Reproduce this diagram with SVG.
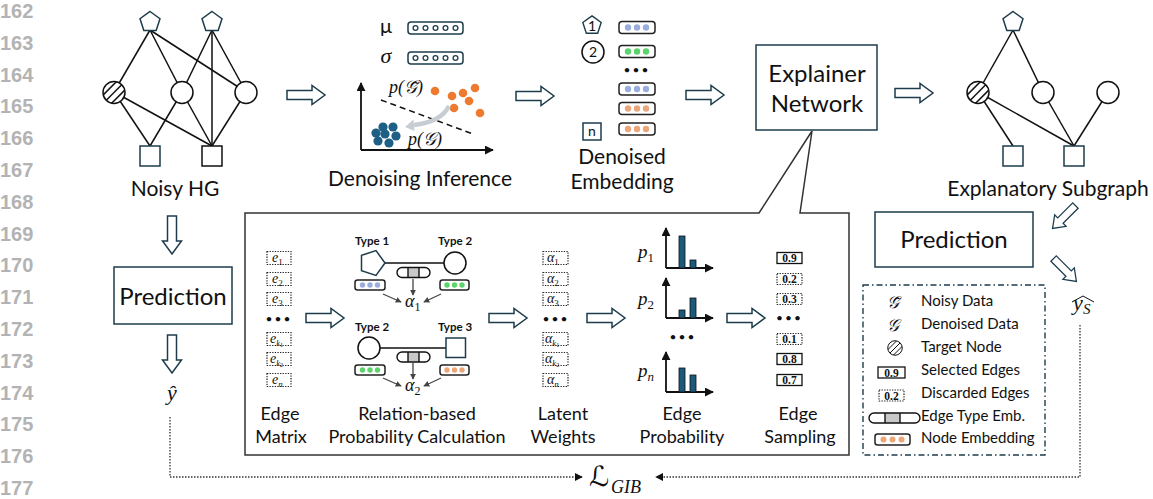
<svg xmlns="http://www.w3.org/2000/svg" width="1153" height="499" viewBox="0 0 1153 499">
<defs>
<style>
.ln{font-family:'Liberation Sans',Arial,sans-serif;font-weight:700;font-size:20px;fill:#b3b3b3}
.t{font-family:Lato,'Liberation Sans',sans-serif;fill:#111;text-anchor:middle}
.h{font-size:21px}
.pl{font-size:18px}
.big{font-size:24px}
.lg{font-size:15px;text-anchor:start}
.ty{font-size:11.5px;font-weight:700}
.m{font-family:'Liberation Serif','DejaVu Serif',serif;font-style:italic;fill:#111}
.num{font-family:'Liberation Serif',serif;font-weight:700;font-size:11.5px;text-anchor:middle;fill:#111}
.hol{fill:#fff;stroke:#1d3c4c;stroke-width:1.5}
.nav{fill:#fff;stroke:#1d3c4c;stroke-width:1.5}
.blk{fill:#fff;stroke:#111;stroke-width:1.5}
.e{stroke:#111;stroke-width:1.5;fill:none}
.dot{fill:#fff;stroke:#222;stroke-width:1.2;stroke-dasharray:1.3 1.3}
.sel{fill:#fff;stroke:#111;stroke-width:1.3}
.emb{fill:#fff;stroke:#222;stroke-width:1.5}
.bl{fill:#9aaedd}.gr{fill:#5dd36b}.or{fill:#eba67a}
.bar{fill:#1c5a7c;stroke:#111;stroke-width:0.8}
.ax{stroke:#111;stroke-width:1.8;fill:none;marker-end:url(#ah)}
.sm{stroke:#444;stroke-width:1.3;fill:none;marker-end:url(#sh)}
.loss{stroke:#333;stroke-width:1.3;fill:none;stroke-dasharray:1.5 1.5}
.vec{fill:#fff;stroke:#1d3c4c;stroke-width:1.5}
.vc{fill:#fff;stroke:#1d3c4c;stroke-width:1.3}
</style>
<marker id="sh" viewBox="0 0 8 8" refX="7" refY="4" markerWidth="6" markerHeight="6" markerUnits="userSpaceOnUse" orient="auto"><path d="M0,0 L8,4 L0,8 z" fill="#444"/></marker>
<marker id="ah" viewBox="0 0 10 10" refX="9" refY="5" markerWidth="9" markerHeight="9" markerUnits="userSpaceOnUse" orient="auto"><path d="M0,0 L10,5 L0,10 z" fill="#111"/></marker>
<marker id="lh" viewBox="0 0 10 10" refX="9" refY="5" markerWidth="8" markerHeight="8" markerUnits="userSpaceOnUse" orient="auto"><path d="M0,0 L10,5 L0,10 z" fill="#111"/></marker>
<path id="harr" d="M-19,-4.5 H6 V-9.5 L19,0 L6,9.5 V4.5 H-19 Z"/>
<polygon id="pent" points="0,-10.5 9.99,-3.24 6.17,8.49 -6.17,8.49 -9.99,-3.24"/>
<clipPath id="cc"><circle r="11"/></clipPath>
<g id="hatch">
<circle r="11" fill="#fff"/>
<g clip-path="url(#cc)" stroke="#111" stroke-width="1.5"><line x1="-19.2" y1="10.8" x2="10.8" y2="-19.2"/><line x1="-15" y1="15" x2="15" y2="-15"/><line x1="-10.8" y1="19.2" x2="19.2" y2="-10.8"/></g>
<circle r="11" fill="none" stroke="#111" stroke-width="1.5"/>
</g>
<g id="pill">
<path d="M5,0 H28 A5,5 0 0 1 28,10 H5 A5,5 0 0 1 5,0 Z" fill="#fff"/>
<rect x="11" y="0" width="11" height="10" fill="#c8c8c8"/>
<path d="M5,0 H28 A5,5 0 0 1 28,10 H5 A5,5 0 0 1 5,0 Z M11,0 V10 M22,0 V10" fill="none" stroke="#111" stroke-width="1.4"/>
</g>
</defs>

<rect width="1153" height="499" fill="#fff"/>

<!-- line numbers -->
<g id="line-numbers">
<text class="ln" x="0" y="18">162</text>
<text class="ln" x="0" y="49.8">163</text>
<text class="ln" x="0" y="81.6">164</text>
<text class="ln" x="0" y="113.4">165</text>
<text class="ln" x="0" y="145.2">166</text>
<text class="ln" x="0" y="177">167</text>
<text class="ln" x="0" y="208.8">168</text>
<text class="ln" x="0" y="240.6">169</text>
<text class="ln" x="0" y="272.4">170</text>
<text class="ln" x="0" y="304.2">171</text>
<text class="ln" x="0" y="336">172</text>
<text class="ln" x="0" y="367.8">173</text>
<text class="ln" x="0" y="399.6">174</text>
<text class="ln" x="0" y="431.4">175</text>
<text class="ln" x="0" y="463.2">176</text>
<text class="ln" x="0" y="495">177</text>
</g>

<!-- noisy heterogeneous graph -->
<g id="noisy-hg">
<g class="e">
<line x1="150" y1="30" x2="114" y2="92"/>
<line x1="150" y1="30" x2="182" y2="92"/>
<line x1="150" y1="30" x2="246" y2="92"/>
<line x1="212" y1="30" x2="182" y2="92"/>
<line x1="212" y1="30" x2="246" y2="92"/>
<line x1="212" y1="30" x2="212" y2="146"/>
<line x1="114" y1="92" x2="150" y2="146"/>
<line x1="114" y1="92" x2="212" y2="146"/>
<line x1="182" y1="92" x2="150" y2="146"/>
<line x1="182" y1="92" x2="212" y2="146"/>
<line x1="246" y1="92" x2="212" y2="146"/>
</g>
<use href="#pent" class="nav" x="150" y="22"/>
<use href="#pent" class="nav" x="212" y="22"/>
<use href="#hatch" x="114" y="92.5"/>
<circle class="blk" cx="182" cy="92.5" r="11"/>
<circle class="blk" cx="246" cy="92.5" r="11"/>
<rect class="nav" x="140" y="146" width="20" height="20"/>
<rect class="blk" x="202" y="146" width="20" height="20"/>
<text class="t h" x="175" y="196">Noisy HG</text>
</g>

<!-- denoising inference -->
<g id="denoising-inference">
<text class="t" x="386" y="33" font-size="20">μ</text>
<rect class="vec" x="408" y="22" width="55" height="12" rx="3"/>
<g class="vc"><circle cx="415.5" cy="28" r="2.4"/><circle cx="425.5" cy="28" r="2.4"/><circle cx="435.5" cy="28" r="2.4"/><circle cx="445.5" cy="28" r="2.4"/><circle cx="455.5" cy="28" r="2.4"/></g>
<text class="m" x="386" y="63" font-size="22" text-anchor="middle">σ</text>
<rect class="vec" x="408" y="52" width="55" height="12" rx="3"/>
<g class="vc"><circle cx="415.5" cy="58" r="2.4"/><circle cx="425.5" cy="58" r="2.4"/><circle cx="435.5" cy="58" r="2.4"/><circle cx="445.5" cy="58" r="2.4"/><circle cx="455.5" cy="58" r="2.4"/></g>
<path class="ax" d="M361,150 V83"/>
<path class="ax" d="M361,150 H493"/>
<line x1="381" y1="100" x2="473" y2="134" stroke="#111" stroke-width="1.5" stroke-dasharray="6 4"/>
<g fill="#ee7a30">
<circle cx="435" cy="91" r="4.3"/><circle cx="452" cy="96" r="4.3"/><circle cx="463" cy="93" r="4.3"/><circle cx="475" cy="88" r="4.3"/><circle cx="469" cy="101" r="4.3"/><circle cx="454" cy="108" r="4.3"/><circle cx="480" cy="113" r="4.3"/>
</g>
<g fill="#1e5f86">
<circle cx="383" cy="127" r="4.6"/><circle cx="393" cy="127" r="4.6"/><circle cx="376" cy="133" r="4.6"/><circle cx="385" cy="134" r="4.6"/><circle cx="396" cy="136" r="4.6"/><circle cx="378" cy="141" r="4.6"/><circle cx="389" cy="143" r="4.6"/>
</g>
<path d="M449,106 Q441,122 414,125" fill="none" stroke="#c8cdd4" stroke-width="4.5"/>
<polygon points="405,127 414.6,131 413.4,119.5" fill="#c8cdd4"/>
<text class="m" x="389" y="93" font-size="18">p(𝒢̃)</text>
<text class="m" x="408" y="145" font-size="18">p(𝒢)</text>
<text class="t h" x="420" y="186">Denoising Inference</text>
</g>

<!-- denoised embedding -->
<g id="denoised-embedding">
<use href="#pent" class="nav" transform="translate(592,25.5) scale(0.92)"/>
<text class="t" x="592" y="30.5" font-size="14">1</text>
<circle class="blk" cx="593" cy="52" r="11"/>
<text class="t" x="593" y="57" font-size="14">2</text>
<rect class="nav" x="583" y="123" width="18" height="17"/>
<text class="t" x="592" y="136" font-size="14">n</text>
<rect class="emb" x="619" y="21.5" width="36" height="12" rx="3"/>
<g class="bl"><circle cx="628" cy="27.5" r="3.2"/><circle cx="637" cy="27.5" r="3.2"/><circle cx="646" cy="27.5" r="3.2"/></g>
<rect class="emb" x="619" y="45.5" width="36" height="12" rx="3"/>
<g class="gr"><circle cx="628" cy="51.5" r="3.2"/><circle cx="637" cy="51.5" r="3.2"/><circle cx="646" cy="51.5" r="3.2"/></g>
<text class="t" x="637" y="74" font-size="12" letter-spacing="2" font-family="'Liberation Sans',sans-serif">•••</text>
<rect class="emb" x="619" y="83" width="36" height="12" rx="3"/>
<g class="bl"><circle cx="628" cy="89" r="3.2"/><circle cx="637" cy="89" r="3.2"/><circle cx="646" cy="89" r="3.2"/></g>
<rect class="emb" x="619" y="102.5" width="36" height="12" rx="3"/>
<g class="or"><circle cx="628" cy="108.5" r="3.2"/><circle cx="637" cy="108.5" r="3.2"/><circle cx="646" cy="108.5" r="3.2"/></g>
<rect class="emb" x="619" y="123" width="36" height="12" rx="3"/>
<g class="or"><circle cx="628" cy="129" r="3.2"/><circle cx="637" cy="129" r="3.2"/><circle cx="646" cy="129" r="3.2"/></g>
<text class="t h" x="622" y="164">Denoised</text>
<text class="t h" x="622" y="189">Embedding</text>
</g>

<!-- explainer detail panel (callout) -->
<g id="explainer-detail">
<path d="M245,213 H759 L812,131 L800,213 H849 V455 H245 Z" fill="#fff" stroke="#333" stroke-width="1.5" stroke-linejoin="miter"/>
</g>

<!-- explainer network -->
<g id="explainer-network">
<rect class="nav" x="756" y="45" width="121" height="85"/>
<text class="t big" x="817" y="82">Explainer</text>
<text class="t big" x="817" y="112">Network</text>
</g>

<!-- edge matrix -->
<g id="edge-matrix">
<rect class="dot" x="267" y="251.5" width="24" height="13"/>
<text class="m" x="272" y="261.5" font-size="14">e<tspan font-size="9" dy="3" font-style="normal">1</tspan></text>
<rect class="dot" x="267" y="272.5" width="24" height="13"/>
<text class="m" x="272" y="282.5" font-size="14">e<tspan font-size="9" dy="3" font-style="normal">2</tspan></text>
<rect class="dot" x="267" y="292.5" width="24" height="13"/>
<text class="m" x="272" y="302.5" font-size="14">e<tspan font-size="9" dy="3" font-style="normal">3</tspan></text>
<text class="t" x="279" y="323" font-size="12" letter-spacing="2" font-family="'Liberation Sans',sans-serif">•••</text>
<rect class="dot" x="267" y="332.5" width="24" height="13"/>
<text class="m" x="270" y="342.5" font-size="14">e<tspan font-size="8.5" dy="3">k</tspan><tspan font-size="6" dy="1" font-style="normal">1</tspan></text>
<rect class="dot" x="267" y="352.5" width="24" height="13"/>
<text class="m" x="270" y="362.5" font-size="14">e<tspan font-size="8.5" dy="3">k</tspan><tspan font-size="6" dy="1" font-style="normal">2</tspan></text>
<rect class="dot" x="267" y="373.5" width="24" height="13"/>
<text class="m" x="272" y="383.5" font-size="14">e<tspan font-size="9" dy="3">n</tspan></text>
<text class="t pl" x="280" y="420">Edge</text>
<text class="t pl" x="281" y="443">Matrix</text>
</g>

<!-- relation-based probability calculation -->
<g id="relation-calc">
<text class="t ty" x="372" y="245">Type 1</text>
<text class="t ty" x="455" y="245">Type 2</text>
<line x1="385" y1="263" x2="444" y2="263" class="e"/>
<polygon class="nav" points="385,263 376,275.4 361.5,270.6 361.5,255.4 376,250.6"/>
<circle class="blk" cx="455" cy="263" r="11"/>
<use href="#pill" x="397" y="267.5"/>
<rect class="emb" x="355" y="280" width="30" height="10" rx="2.5"/>
<g class="bl"><circle cx="362.5" cy="285" r="2.7"/><circle cx="370" cy="285" r="2.7"/><circle cx="377.5" cy="285" r="2.7"/></g>
<rect class="emb" x="440" y="280" width="29" height="10" rx="2.5"/>
<g class="gr"><circle cx="447" cy="285" r="2.7"/><circle cx="454.5" cy="285" r="2.7"/><circle cx="462" cy="285" r="2.7"/></g>
<path class="sm" d="M413,279 V295"/>
<path class="sm" d="M383,294 L401,302"/>
<path class="sm" d="M441,294 L424,302"/>
<text class="m" x="405" y="307" font-size="18">α<tspan font-size="12" dy="4" font-style="normal">1</tspan></text>

<text class="t ty" x="372" y="331">Type 2</text>
<text class="t ty" x="455" y="331">Type 3</text>
<line x1="369" y1="348" x2="446" y2="348" class="e"/>
<circle class="blk" cx="369" cy="348" r="11"/>
<rect class="nav" x="446" y="338" width="19.5" height="19.5"/>
<use href="#pill" x="397" y="352"/>
<rect class="emb" x="355" y="365" width="30" height="10" rx="2.5"/>
<g class="gr"><circle cx="362.5" cy="370" r="2.7"/><circle cx="370" cy="370" r="2.7"/><circle cx="377.5" cy="370" r="2.7"/></g>
<rect class="emb" x="440" y="365" width="29" height="10" rx="2.5"/>
<g class="or"><circle cx="447" cy="370" r="2.7"/><circle cx="454.5" cy="370" r="2.7"/><circle cx="462" cy="370" r="2.7"/></g>
<path class="sm" d="M413,363 V379"/>
<path class="sm" d="M383,378 L401,386"/>
<path class="sm" d="M441,378 L424,386"/>
<text class="m" x="405" y="391" font-size="18">α<tspan font-size="12" dy="4" font-style="normal">2</tspan></text>

<text class="t pl" x="417" y="420">Relation-based</text>
<text class="t pl" x="417" y="443">Probability Calculation</text>
</g>

<!-- latent weights -->
<g id="latent-weights">
<rect class="dot" x="543" y="251.5" width="25" height="13"/>
<text class="m" x="547" y="261.5" font-size="14">α<tspan font-size="9" dy="3" font-style="normal">1</tspan></text>
<rect class="dot" x="543" y="272.5" width="25" height="13"/>
<text class="m" x="547" y="282.5" font-size="14">α<tspan font-size="9" dy="3" font-style="normal">2</tspan></text>
<rect class="dot" x="543" y="292.5" width="25" height="13"/>
<text class="m" x="547" y="302.5" font-size="14">α<tspan font-size="9" dy="3" font-style="normal">3</tspan></text>
<text class="t" x="556" y="323" font-size="12" letter-spacing="2" font-family="'Liberation Sans',sans-serif">•••</text>
<rect class="dot" x="543" y="332.5" width="25" height="13"/>
<text class="m" x="545" y="342.5" font-size="14">α<tspan font-size="8.5" dy="3">k</tspan><tspan font-size="6" dy="1" font-style="normal">1</tspan></text>
<rect class="dot" x="543" y="352.5" width="25" height="13"/>
<text class="m" x="545" y="362.5" font-size="14">α<tspan font-size="8.5" dy="3">k</tspan><tspan font-size="6" dy="1" font-style="normal">2</tspan></text>
<rect class="dot" x="543" y="373.5" width="25" height="13"/>
<text class="m" x="547" y="383.5" font-size="14">α<tspan font-size="9" dy="3">n</tspan></text>
<text class="t pl" x="563" y="420">Latent</text>
<text class="t pl" x="563" y="443">Weights</text>
</g>

<!-- edge probability -->
<g id="edge-probability">
<text class="m" x="638" y="258" font-size="19">p<tspan font-size="13" dy="4" font-style="normal">1</tspan></text>
<path class="ax" d="M666,268 V228"/><path class="ax" d="M666,268 H713"/>
<rect class="bar" x="679" y="236" width="6" height="32"/><rect class="bar" x="690" y="260" width="6" height="8"/>
<text class="m" x="638" y="305" font-size="19">p<tspan font-size="13" dy="4" font-style="normal">2</tspan></text>
<path class="ax" d="M666,318 V278"/><path class="ax" d="M666,318 H713"/>
<rect class="bar" x="679" y="310" width="6" height="8"/><rect class="bar" x="690" y="298" width="6" height="20"/>
<text class="t" x="683" y="341" font-size="12" letter-spacing="2" font-family="'Liberation Sans',sans-serif">•••</text>
<text class="m" x="638" y="377" font-size="19">p<tspan font-size="13" dy="4">n</tspan></text>
<path class="ax" d="M666,392 V352"/><path class="ax" d="M666,392 H713"/>
<rect class="bar" x="679" y="368" width="6" height="24"/><rect class="bar" x="690" y="375" width="6" height="17"/>
<text class="t pl" x="682" y="420">Edge</text>
<text class="t pl" x="682" y="443">Probability</text>
</g>

<!-- edge sampling -->
<g id="edge-sampling">
<rect class="sel" x="777" y="252.5" width="25" height="11"/><text class="num" x="789.5" y="262">0.9</text>
<rect class="dot" x="777" y="273.5" width="25" height="11"/><text class="num" x="789.5" y="283">0.2</text>
<rect class="dot" x="777" y="293.5" width="25" height="11"/><text class="num" x="789.5" y="303">0.3</text>
<text class="t" x="789.5" y="322" font-size="12" letter-spacing="2" font-family="'Liberation Sans',sans-serif">•••</text>
<rect class="dot" x="777" y="333.5" width="25" height="11"/><text class="num" x="789.5" y="343">0.1</text>
<rect class="sel" x="777" y="353.5" width="25" height="11"/><text class="num" x="789.5" y="363">0.8</text>
<rect class="sel" x="777" y="374.5" width="25" height="11"/><text class="num" x="789.5" y="384">0.7</text>
<text class="t pl" x="798" y="420">Edge</text>
<text class="t pl" x="800" y="443">Sampling</text>
</g>

<!-- explanatory subgraph -->
<g id="explanatory-subgraph">
<g class="e">
<line x1="1013" y1="30" x2="978" y2="92"/>
<line x1="1013" y1="30" x2="1043" y2="92"/>
<line x1="978" y1="92" x2="1013" y2="146"/>
<line x1="978" y1="92" x2="1074" y2="146"/>
<line x1="1043" y1="92" x2="1074" y2="146"/>
<line x1="1108" y1="92" x2="1074" y2="146"/>
</g>
<use href="#pent" class="nav" x="1013" y="22"/>
<use href="#hatch" x="978" y="92.5"/>
<circle class="blk" cx="1043" cy="92.5" r="11"/>
<circle class="blk" cx="1108" cy="92.5" r="11"/>
<rect class="nav" x="1003" y="146" width="20" height="20"/>
<rect class="nav" x="1064" y="146" width="20" height="20"/>
<text class="t h" x="1048" y="196">Explanatory Subgraph</text>
</g>

<!-- predictions and outputs -->
<g id="prediction-full">
<rect class="nav" x="114" y="267" width="118" height="57"/>
<text class="t big" x="173" y="305">Prediction</text>
<text class="m" x="172" y="400" font-size="22" text-anchor="middle">ŷ</text>
</g>
<g id="prediction-sub">
<rect class="nav" x="875" y="212" width="158" height="55"/>
<text class="t big" x="954" y="248">Prediction</text>
<text class="m" x="1073" y="310" font-size="22">y</text>
<text class="m" x="1083" y="314" font-size="15">S</text>
<path d="M1072,302 L1083,296 L1094,302" fill="none" stroke="#111" stroke-width="1"/>
</g>

<!-- loss -->
<g id="loss">
<text x="589" y="486" font-family="'DejaVu Serif','DejaVu Sans',serif" font-style="italic" font-size="28" fill="#111">ℒ</text>
<text class="m" x="611" y="493" font-size="18">GIB</text>
</g>

<!-- legend -->
<g id="legend">
<rect x="863" y="285" width="182" height="170" fill="none" stroke="#1d3c4c" stroke-width="1.4" stroke-dasharray="6 3 1.5 3"/>
<text class="m" x="893" y="308" font-size="17" text-anchor="middle">𝒢̃</text>
<text class="t lg" x="921" y="306">Noisy Data</text>
<text class="m" x="893" y="331" font-size="17" text-anchor="middle">𝒢</text>
<text class="t lg" x="921" y="329">Denoised Data</text>
<use href="#hatch" transform="translate(895,348) scale(0.66)"/>
<text class="t lg" x="921" y="352">Target Node</text>
<rect class="sel" x="878" y="367" width="27" height="11"/><text class="num" x="891.5" y="376.5">0.9</text>
<text class="t lg" x="921" y="375">Selected Edges</text>
<rect class="dot" x="879" y="390" width="25" height="11"/><text class="num" x="891.5" y="399.5">0.2</text>
<text class="t lg" x="921" y="398">Discarded Edges</text>
<path d="M874,413 H915 A5,5 0 0 1 915,423 H874 A5,5 0 0 1 874,413 Z" fill="#fff"/>
<rect x="885" y="413" width="15" height="10" fill="#c8c8c8"/>
<path d="M874,413 H915 A5,5 0 0 1 915,423 H874 A5,5 0 0 1 874,413 Z M885,413 V423 M900,413 V423" fill="none" stroke="#111" stroke-width="1.4"/>
<text class="t lg" x="921" y="421">Edge Type Emb.</text>
<rect class="emb" x="875" y="434" width="35" height="11" rx="2.5"/>
<g class="or"><circle cx="883.5" cy="439.5" r="3"/><circle cx="892.5" cy="439.5" r="3"/><circle cx="901.5" cy="439.5" r="3"/></g>
<text class="t lg" x="921" y="443">Node Embedding</text>
</g>

<!-- connectors -->
<g id="connectors">
<use href="#harr" class="hol" transform="translate(306,95)"/>
<use href="#harr" class="hol" transform="translate(535,96)"/>
<use href="#harr" class="hol" transform="translate(705,95)"/>
<use href="#harr" class="hol" transform="translate(914,93)"/>
<use href="#harr" class="hol" transform="translate(172,235) rotate(90)"/>
<use href="#harr" class="hol" transform="translate(172,354) rotate(90)"/>
<use href="#harr" class="hol" transform="translate(325,318)"/>
<use href="#harr" class="hol" transform="translate(508,318)"/>
<use href="#harr" class="hol" transform="translate(606,318)"/>
<use href="#harr" class="hol" transform="translate(746,318)"/>
<use href="#harr" class="hol" transform="translate(1064,217) rotate(135) scale(0.85)"/>
<use href="#harr" class="hol" transform="translate(1065,270) rotate(45) scale(0.85)"/>
<path class="loss" d="M170,417 V477 H582" marker-end="url(#lh)"/>
<path class="loss" d="M1080,325 V477 H656" marker-end="url(#lh)"/>
</g>
</svg>
